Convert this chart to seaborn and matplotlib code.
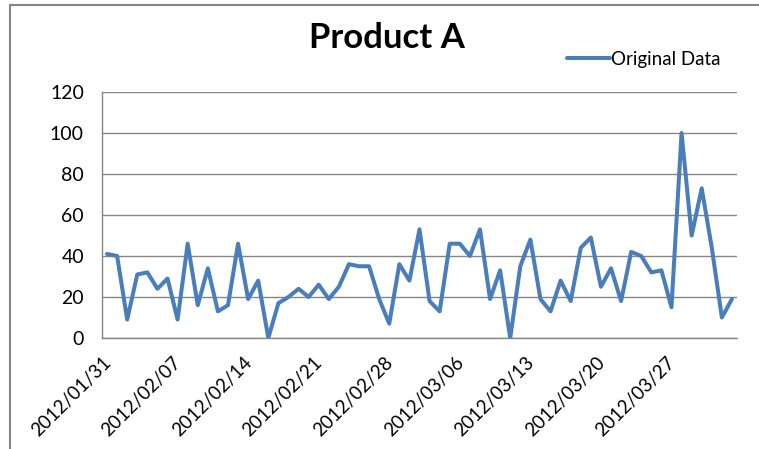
import pandas as pd
import matplotlib
matplotlib.use("Agg")
import matplotlib.pyplot as plt
import matplotlib.dates as mdates
from matplotlib.lines import Line2D
import seaborn as sns

# =========================
# DATA
# =========================

start_date = "2012-01-31"
n_days = 63

values = [
    41, 40, 9, 31, 32, 24, 29, 9, 46, 16,
    34, 13, 16, 46, 19, 28, 0, 17, 20, 24,
    20, 26, 19, 25, 36, 35, 35, 19, 7, 36,
    28, 53, 18, 13, 46, 46, 40, 53, 19, 33,
    0, 35, 48, 19, 13, 28, 18, 44, 49, 25,
    34, 18, 42, 40, 32, 33, 15, 100, 50, 73,
    44, 10, 19,
]

tick_labels = [
    "2012/01/31", "2012/02/07", "2012/02/14", "2012/02/21", "2012/02/28",
    "2012/03/06", "2012/03/13", "2012/03/20", "2012/03/27", "",
]

series_name = "Original Data"
title = "Product A"

# points sit in the middle of each day slot (Excel date axis)
days = pd.date_range(start_date, periods=n_days, freq="D")
df = pd.DataFrame({"date": days + pd.Timedelta(hours=12), "value": values})
tick_dates = pd.date_range(start_date, periods=len(tick_labels), freq="7D")

# =========================
# STYLE
# =========================

sns.set_style("white")
plt.rcParams["font.family"] = ["Lato", "DejaVu Sans"]
plt.rcParams["text.color"] = "black"
plt.rcParams["xtick.labelcolor"] = "black"
plt.rcParams["ytick.labelcolor"] = "black"

GRAY = "#868686"
BLUE = "#4A7EBB"

fig = plt.figure(figsize=(7.59, 4.49), dpi=100)
ax = fig.add_axes([102 / 759, 1 - 338 / 449, 635 / 759, 246 / 449])

sns.lineplot(data=df, x="date", y="value", ax=ax, color=BLUE,
             linewidth=2.9, label=series_name, legend=False)

ax.set_ylim(0, 120)
ax.set_yticks(range(0, 121, 20))
ax.set_xlim(mdates.date2num(days[0]),
            mdates.date2num(days[-1] + pd.Timedelta(days=1)))
ax.set_xticks(mdates.date2num(tick_dates))
ax.set_xticklabels(tick_labels, rotation=45, ha="right",
                   rotation_mode="anchor", fontsize=13.5)
ax.tick_params(axis="y", labelsize=14, length=6, color=GRAY, width=1, pad=7)
ax.tick_params(axis="x", length=5, color=GRAY, width=1, pad=6)
ax.set_xlabel("")
ax.set_ylabel("")

ax.grid(axis="y", color=GRAY, linewidth=1)
ax.grid(axis="x", visible=False)
for side in ["top", "right"]:
    ax.spines[side].set_visible(False)
for side in ["left", "bottom"]:
    ax.spines[side].set_color(GRAY)
    ax.spines[side].set_linewidth(1)

fig.text(387 / 759, 1 - 38 / 449, title, ha="center", va="center",
         fontsize=25, fontweight="bold")

handle = Line2D([], [], color=BLUE, linewidth=2.9)
fig.legend([handle], [series_name], loc="center left",
           bbox_to_anchor=(550 / 759, 1 - 59 / 449), frameon=False,
           fontsize=13.5, handlelength=2.3, handletextpad=0.05)

# chart area border (top and left edge visible)
fig.add_artist(Line2D([10 / 759, 1.0], [1 - 5 / 449, 1 - 5 / 449],
                      color=GRAY, linewidth=1.5, transform=fig.transFigure))
fig.add_artist(Line2D([10 / 759, 10 / 759], [0.0, 1 - 5 / 449],
                      color=GRAY, linewidth=1.5, transform=fig.transFigure))

fig.savefig("out.png", dpi=100)
plt.close(fig)
